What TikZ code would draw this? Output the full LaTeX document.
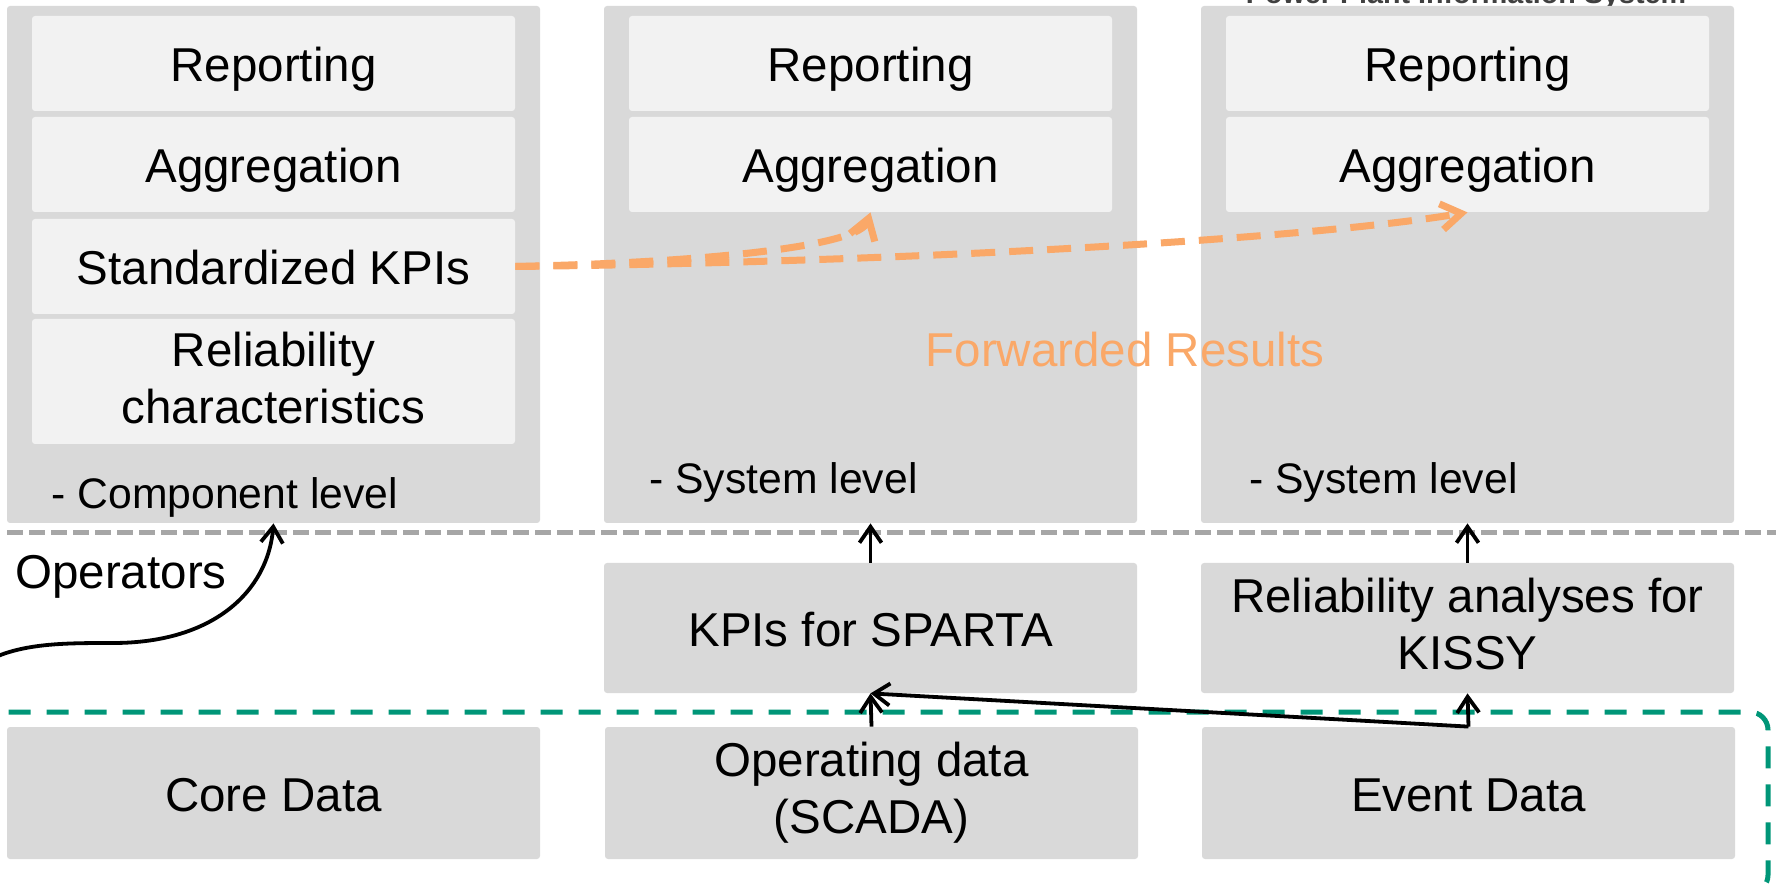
\documentclass[tikz,border=0pt]{standalone}
\usepackage{fontspec}
\setmainfont{Liberation Sans}
\usetikzlibrary{arrows.meta}
\definecolor{boxgray}{RGB}{217,217,217}
\definecolor{innergray}{RGB}{242,242,242}
\definecolor{sepgray}{RGB}{166,166,166}
\definecolor{ggreen}{RGB}{0,150,120}
\definecolor{orng}{RGB}{250,168,104}
\definecolor{titgray}{RGB}{64,64,64}
\newcommand\mainsz{\fontsize{23.75pt}{28.5pt}\selectfont}
\newcommand\lblsz{\fontsize{21.35pt}{25.6pt}\selectfont}
\newcommand\titsz{\fontsize{14.35pt}{17pt}\selectfont\bfseries}
\newcommand\ps{\rule[-0.212em]{0pt}{1.117em}}
\newcommand\bs{\rule[-0.17em]{0pt}{1.117em}}
\newcommand\ls{\rule[-0.25em]{0pt}{1.117em}}
\begin{document}
\begin{tikzpicture}[x=0.5pt,y=-0.5pt,
  bigbox/.style={fill=boxgray, rounded corners=1.5pt, minimum width=266.5pt, minimum height=258.5pt, inner sep=0pt},
  innerbox/.style={fill=innergray, rounded corners=1.5pt, minimum width=241.5pt, inner sep=0pt, align=center, font=\mainsz, execute at begin node=\bs},
  databox/.style={fill=boxgray, rounded corners=1.5pt, minimum width=266.5pt, inner sep=0pt, align=center, font=\mainsz, execute at begin node=\bs},
  lbl/.style={font=\lblsz, inner sep=0pt, anchor=west, execute at begin node=\ls},
  blk/.style={black, line width=1.9pt, -{Straight Barb[length=8pt,width=11pt]}},
  orarrow/.style={orng, line width=3.5pt, dash pattern=on 12pt off 7pt, -{Straight Barb[length=10pt,width=13pt]}},
]
\useasboundingbox (0,0) rectangle (1776,886);

% title (cut off at top)
\node[font=\titsz, text=titgray, anchor=base, inner sep=0pt] (title) at (1466,4) {Power Plant Information System};

% big column boxes
\node[bigbox] (b1) at (273.5,264.5) {};
\node[bigbox] (b2) at (870.5,264.5) {};
\node[bigbox] (b3) at (1467.5,264.5) {};

% column 1 inner boxes
\node[innerbox, minimum height=47.5pt] (r1) at (273.5,63.5) {Reporting};
\node[innerbox, minimum height=47.5pt] (a1) at (273.5,164.5) {Aggregation};
\node[innerbox, minimum height=47.5pt] (s1) at (273.5,266.5) {Standardized KPIs};
\node[innerbox, minimum height=62.5pt] (c1) at (273.5,381.5) {Reliability\\\bs characteristics};

% column 2 and 3 inner boxes
\node[innerbox, minimum height=47.5pt] (r2) at (870.5,63.5) {Reporting};
\node[innerbox, minimum height=47.5pt] (a2) at (870.5,164.5) {Aggregation};
\node[innerbox, minimum height=47.5pt] (r3) at (1467.5,63.5) {Reporting};
\node[innerbox, minimum height=47.5pt] (a3) at (1467.5,164.5) {Aggregation};

% level labels
\node[lbl] (l1) at (51,495) {- Component level};
\node[lbl] (l2) at (649,480) {- System level};
\node[lbl] (l3) at (1249,480) {- System level};

% forwarded results
\node[font=\mainsz, text=orng, inner sep=0pt] (fr) at (1125,350) {\ps Forwarded Results};

% separator line
\draw[sepgray, line width=2.5pt, dash pattern=on 8pt off 3pt] (7,533) -- (1776,533);

% analysis boxes
\node[databox, minimum height=65pt] (kp) at (870.5,628) {KPIs for SPARTA};
\node[databox, minimum height=65pt] (kr) at (1467.5,628) {Reliability analyses for\\\bs KISSY};

% green dashed frame
\draw[ggreen, line width=2.5pt, dash pattern=on 11pt off 8pt, rounded corners=9pt] (-12,712) rectangle (1768,893);

% data boxes
\node[databox, minimum height=66pt] (cd) at (273.5,793) {Core Data};
\node[databox, minimum height=66pt] (op) at (871.5,793) {Operating data\\\bs (SCADA)};
\node[databox, minimum height=66pt] (ev) at (1468.5,793) {Event Data};

% operators
\node[font=\mainsz, inner sep=0pt] (opl) at (121,572) {\ps Operators};
\coordinate (opstart) at (-2,656);
\draw[blk] (opstart) .. controls (30,643) and (70,643) .. (113,643) .. controls (215,643) and (268,590) .. (b1.south);

% black arrows
\draw[blk] (kp.north) -- (b2.south);
\draw[blk] (kr.north) -- (b3.south);
\draw[blk] (op.north) -- (kp.south);
\draw[blk] (ev.north) -- (kr.south);
\draw[blk] (ev.north) -- (kp.south);

% orange forwarded arrows
\draw[orarrow] (s1.east) .. controls (720,262) and (860,245) .. (a2.south);
\draw[orarrow] (s1.east) .. controls (900,262) and (1300,240) .. (a3.south);
\end{tikzpicture}
\end{document}
